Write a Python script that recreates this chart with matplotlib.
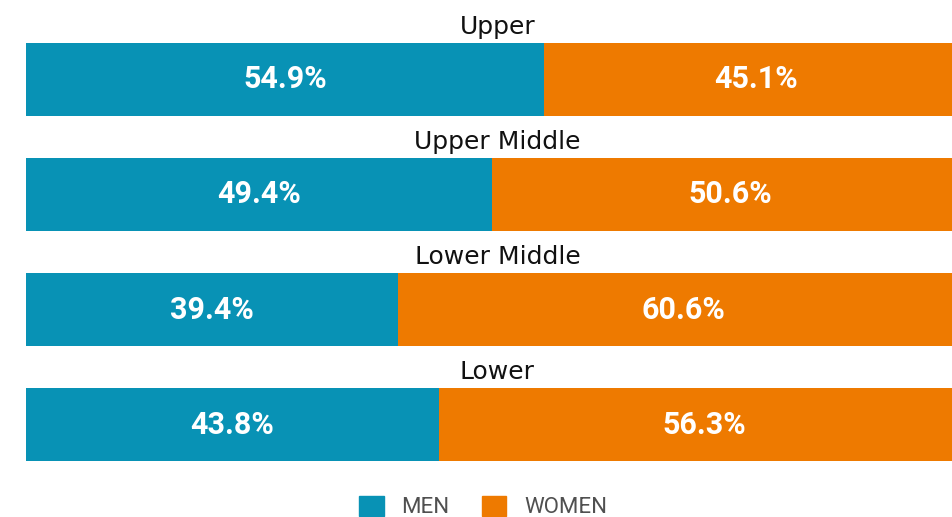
import matplotlib.pyplot as plt
from matplotlib.patches import Patch

groups = ['Upper', 'Upper Middle', 'Lower Middle', 'Lower']
men = [54.9, 49.4, 39.4, 43.8]
women = [45.1, 50.6, 60.6, 56.3]
series_names = ['MEN', 'WOMEN']
colors = ['#0892B5', '#EE7A00']

fig = plt.figure(figsize=(9.53, 5.17), dpi=100)
# bars run past the right edge of the picture, as in the source
ax = fig.add_axes([26/953, 0, 943/953, 1])

y = list(range(len(groups)))
ax.barh(y, men, height=0.635, color=colors[0])
ax.barh(y, women, left=men, height=0.635, color=colors[1])

for i, g in enumerate(groups):
    ax.text(50, i - 0.46, g, ha='center', va='center', fontsize=18,
            family='DejaVu Sans', color='#111111')
    ax.text(men[i] / 2, i, f'{men[i]:.1f}%', ha='center', va='center',
            fontsize=22, fontweight='bold', family='Roboto', color='white')
    ax.text(men[i] + women[i] / 2, i, f'{women[i]:.1f}%', ha='center',
            va='center', fontsize=22, fontweight='bold', family='Roboto',
            color='white')

ax.set_xlim(0, 100)
ax.set_ylim(3.804, -0.691)
ax.axis('off')

handles = [Patch(color=c) for c in colors]
leg = fig.legend(handles, series_names, loc='center', ncol=2,
                 bbox_to_anchor=(483/953, 1 - 507/517), frameon=False,
                 prop={'family': 'Roboto', 'size': 16}, handlelength=1.1,
                 handleheight=1.0, columnspacing=1.45, handletextpad=0.8)
for t in leg.get_texts():
    t.set_color('#505050')

fig.savefig('out.png', dpi=100)
